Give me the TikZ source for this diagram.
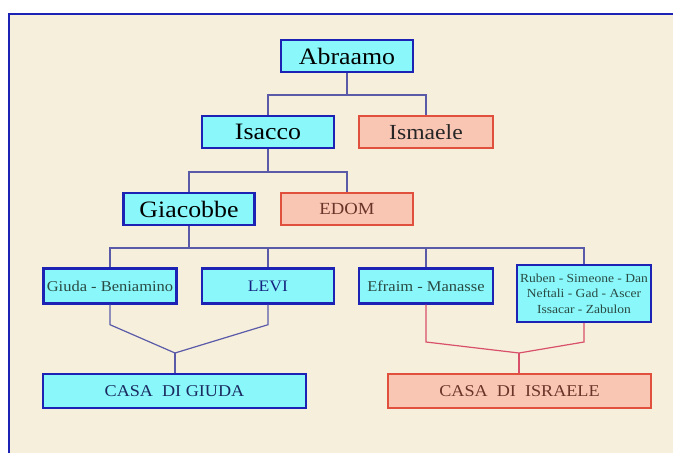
\documentclass[tikz,border=0pt]{standalone}
\usepackage{fontspec}
\setmainfont{Liberation Serif}[FakeStretch=1.1]
\begin{document}
\begin{tikzpicture}[x=1pt,y=-1pt,
  bluebox/.style={draw=boxblue,fill=boxcyan,line width=2.4pt,inner sep=0pt,text=txtblue},
  redbox/.style={draw=boxred,fill=boxpink,line width=2pt,inner sep=0pt,text=txtred},
  bline/.style={draw=lineblue,line width=1.2pt},
  rline/.style={draw=linered,line width=1.2pt}]
\definecolor{bgcream}{HTML}{F6EFDC}
\definecolor{boxblue}{HTML}{1C22B4}
\definecolor{boxcyan}{HTML}{8AF8FA}
\definecolor{boxred}{HTML}{E0503C}
\definecolor{boxpink}{HTML}{FAC6B4}
\definecolor{txtblue}{HTML}{1A2A60}
\definecolor{txtgreen}{HTML}{2A4A44}
\definecolor{txtred}{HTML}{6A3428}
\definecolor{lineblue}{HTML}{5A5AA8}
\definecolor{linered}{HTML}{D8506A}
\useasboundingbox (0,0) rectangle (673,453);
\clip (0,0) rectangle (673,453);
\fill[white] (0,0) rectangle (673,453);
\fill[bgcream] (9,14) rectangle (690,470);
\draw[boxblue,line width=2pt] (9,470) -- (9,14) -- (690,14);
% nodes
\node[bluebox,minimum width=132pt,minimum height=32pt,font=\fontsize{23.5}{25}\selectfont,text=black] (abr) at (347,56) {Abraamo};
\node[bluebox,minimum width=132pt,minimum height=32pt,font=\fontsize{23.5}{25}\selectfont,text=black] (isa) at (268,132) {Isacco};
\node[redbox,minimum width=134pt,minimum height=32pt,font=\fontsize{21.5}{23}\selectfont,text=black!85] (ism) at (426,132) {Ismaele};
\node[bluebox,minimum width=131pt,minimum height=32pt,font=\fontsize{23.5}{25}\selectfont,text=black] (gia) at (189,209) {Giacobbe};
\node[redbox,minimum width=132pt,minimum height=32pt,font=\fontsize{17}{19}\selectfont] (edom) at (347,209) {EDOM};
\node[bluebox,minimum width=133pt,minimum height=35pt,font=\fontsize{15}{17}\selectfont,text=txtgreen] (giu) at (110,286) {Giuda - Beniamino};
\node[bluebox,minimum width=132pt,minimum height=35pt,font=\fontsize{16}{18}\selectfont,text=txtblue!80!blue] (lev) at (268,286) {LEVI};
\node[bluebox,minimum width=134pt,minimum height=35pt,font=\fontsize{15}{17}\selectfont,text=txtgreen] (efr) at (426,286) {Efraim - Manasse};
\node[bluebox,minimum width=134pt,minimum height=57pt,font=\fontsize{12.3}{15.5}\selectfont,align=center,text=txtgreen] (rub) at (584,293.5) {Ruben - Simeone - Dan\\Neftali - Gad - Ascer\\Issacar - Zabulon};
\node[bluebox,minimum width=263pt,minimum height=34pt,font=\fontsize{16.5}{18}\selectfont] (cgiu) at (174.5,391) {CASA\ \ DI GIUDA};
\node[redbox,minimum width=263pt,minimum height=34pt,font=\fontsize{16.5}{18}\selectfont] (cisr) at (519.5,391) {CASA\ \ DI\ \ ISRAELE};
% coordinates
\coordinate (j1) at (347,95);
\coordinate (j2) at (268,172);
\coordinate (j3) at (189,248);
\coordinate (mg) at (175,353);
\coordinate (mi) at (519,353);
% connectors
\draw[bline] (abr.south) -- (j1) -- (j1 -| isa.north) -- (isa.north);
\draw[bline] (j1) -- (j1 -| ism.north) -- (ism.north);
\draw[bline] (isa.south) -- (j2) -- (j2 -| gia.north) -- (gia.north);
\draw[bline] (j2) -- (j2 -| edom.north) -- (edom.north);
\draw[bline] (gia.south) -- (j3) -- (j3 -| giu.north) -- (giu.north);
\draw[bline] (j3) -- (j3 -| rub.north) -- (rub.north);
\draw[bline] (j3 -| lev.north) -- (lev.north);
\draw[bline] (j3 -| efr.north) -- (efr.north);
\draw[bline] (giu.south) -- ++(0,20) -- (mg);
\draw[bline] (lev.south) -- ++(0,20) -- (mg);
\draw[bline] (mg) -- (mg |- cgiu.north);
\draw[rline] (efr.south) -- (426,342) -- (mi);
\draw[rline] (rub.south) -- (584,342) -- (mi);
\draw[rline] (mi) -- (mi |- cisr.north);
\end{tikzpicture}
\end{document}
